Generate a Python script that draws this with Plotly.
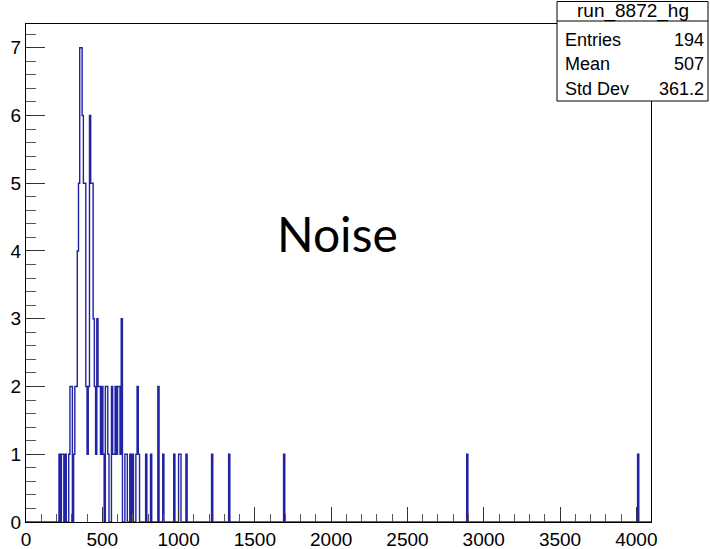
import numpy as np
import plotly.graph_objects as go

# ---- histogram definition / data ----
x_min, x_max, n_bins = 0, 4096, 512
bin_centers = [220, 236, 244, 256, 284, 292, 300, 316, 324, 332,
               340, 348, 356, 364, 372, 380, 388, 396, 404, 412,
               420, 428, 436, 444, 452, 460, 468, 476, 484, 492,
               500, 508, 516, 524, 532, 540, 556, 564, 572, 580,
               588, 596, 604, 612, 620, 628, 652, 660, 684, 700,
               724, 732, 740, 788, 820, 868, 900, 972,
               1004, 1012, 1052, 1220, 1332, 1692, 2892, 4012]
bin_counts = [1, 1, 1, 1, 1, 2, 2, 1, 2, 2,
              4, 5, 7, 7, 6, 5, 5, 2, 1, 2,
              6, 5, 5, 3, 2, 1, 3, 2, 2, 1,
              2, 1, 0, 2, 2, 1, 0, 2, 1, 1,
              2, 1, 2, 2, 1, 3, 1, 1, 1, 1,
              1, 2, 1, 1, 1, 2, 1, 1,
              1, 1, 1, 1, 1, 1, 1, 1]
hist_name = "run_8872_hg"
stats_labels = ["Entries", "Mean", "Std Dev"]
stats_values = ["194", "507", "361.2"]
x_tick_vals = [0, 500, 1000, 1500, 2000, 2500, 3000, 3500, 4000]
y_tick_vals = [0, 1, 2, 3, 4, 5, 6, 7]
overlay_text = "Noise"

# ---- build step histogram ----
edges = np.linspace(x_min, x_max, n_bins + 1)
width = (x_max - x_min) / n_bins
full = np.zeros(n_bins)
for c, n in zip(bin_centers, bin_counts):
    full[int((c - x_min) // width)] = n
xs = edges
ys = np.append(full, full[-1])

W, H = 710, 549
L, R, T, B = 26, 59, 24, 27
pw, ph = W - L - R, H - T - B

def px(x):
    return (x - L) / pw

def py(y):
    return (H - B - y) / ph

fig = go.Figure()
fig.add_trace(go.Scatter(x=xs, y=ys, mode="lines", line_shape="hv",
                         line=dict(color="#2222a4", width=1.4),
                         hoverinfo="skip", showlegend=False))

axis_font = dict(family="Liberation Sans, Arial, sans-serif", size=19, color="black")
fig.update_layout(
    width=W, height=H,
    margin=dict(l=L, r=R, t=T, b=B, pad=0),
    paper_bgcolor="white", plot_bgcolor="white",
    showlegend=False,
    xaxis=dict(range=[x_min, x_max], tickvals=x_tick_vals,
               ticktext=[str(v) for v in x_tick_vals], automargin=False,
               ticks="inside", ticklen=15, tickwidth=1, tickcolor="#333",
               minor=dict(dtick=100, tick0=0, ticks="inside", ticklen=8,
                          tickwidth=1, tickcolor="#555"),
               showline=True, mirror=True, linecolor="black", linewidth=1,
               showgrid=False, zeroline=False, tickfont=axis_font),
    yaxis=dict(range=[0, 7.35], tickvals=y_tick_vals,
               ticktext=[str(v) for v in y_tick_vals], automargin=False,
               ticks="inside", ticklen=19, tickwidth=1, tickcolor="#333",
               minor=dict(dtick=0.2, tick0=0, ticks="inside", ticklen=10,
                          tickwidth=1, tickcolor="#555"),
               showline=True, mirror=True, linecolor="black", linewidth=1,
               showgrid=False, zeroline=False, tickfont=axis_font),
)

# stats box
bx0, bx1, by0, by1, bdiv = 557, 708, 1.5, 101, 21
fig.add_shape(type="rect", xref="paper", yref="paper",
              x0=px(bx0), x1=px(bx1), y0=py(by1), y1=py(by0),
              line=dict(color="black", width=1), fillcolor="white", layer="above")
fig.add_shape(type="line", xref="paper", yref="paper",
              x0=px(bx0), x1=px(bx1), y0=py(bdiv), y1=py(bdiv),
              line=dict(color="black", width=1), layer="above")

stat_font = dict(family="Liberation Sans, Arial, sans-serif", size=18, color="black")
fig.add_annotation(xref="paper", yref="paper", x=px((bx0 + bx1) / 2), y=py(11.5),
                   text=hist_name, showarrow=False, xanchor="center", yanchor="middle",
                   font=dict(family="Liberation Sans, Arial, sans-serif", size=19, color="black"))
row_y = [39.5, 64, 89]
for lab, val, yy in zip(stats_labels, stats_values, row_y):
    fig.add_annotation(xref="paper", yref="paper", x=px(563), y=py(yy), text=lab,
                       showarrow=False, xanchor="left", yanchor="middle", font=stat_font)
    fig.add_annotation(xref="paper", yref="paper", x=px(706), y=py(yy), text=val,
                       showarrow=False, xanchor="right", yanchor="middle", font=stat_font)

fig.add_annotation(xref="paper", yref="paper", x=px(337), y=py(233), text=overlay_text,
                   showarrow=False, xanchor="center", yanchor="middle",
                   font=dict(family="Lato, sans-serif", size=48, color="black"))

fig.write_html("out.html", config={"displayModeBar": False},
               post_script="document.body.style.margin='0';document.body.style.overflow='hidden';")
